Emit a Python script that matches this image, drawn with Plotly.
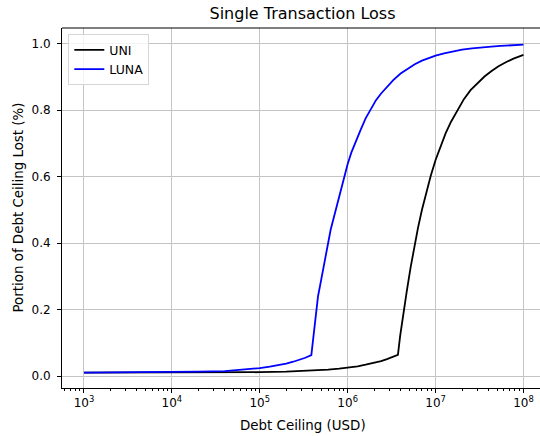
import plotly.graph_objects as go

# Data
uni_x = [1e3, 1e4, 1e5, 2e5, 4e5, 6e5, 8e5, 1e6, 1.3e6, 1.6e6, 2e6, 2.4e6, 2.8e6, 3.3e6, 3.73e6,
         3.95e6, 4.15e6, 4.37e6, 4.7e6, 5.2e6, 5.7e6, 6.3e6, 7e6, 7.8e6, 8.8e6, 1e7,
         1.15e7, 1.3e7, 1.5e7, 1.77e7, 2.1e7, 2.5e7, 3e7, 3.6e7, 4.3e7, 5.2e7, 6.3e7, 7.7e7, 1e8]
uni_y = [0.010, 0.010, 0.0115, 0.013, 0.016, 0.019, 0.022, 0.025, 0.029, 0.034, 0.039, 0.045, 0.051, 0.058, 0.064,
         0.12, 0.16, 0.197, 0.255, 0.327, 0.385, 0.445, 0.50, 0.55, 0.602, 0.65,
         0.695, 0.73, 0.765, 0.80, 0.833, 0.86, 0.881, 0.901, 0.917, 0.932, 0.944, 0.955, 0.966]

luna_x = [1e3, 1e4, 2e4, 4e4, 6e4, 8e4, 1e5, 1.3e5, 1.6e5, 2e5, 2.4e5, 2.8e5, 3.3e5, 3.86e5,
          4.1e5, 4.33e5, 4.6e5, 5e5, 5.4e5, 5.87e5, 6.4e5, 7e5, 7.83e5, 8.5e5, 9.2e5, 1e6,
          1.1e6, 1.25e6, 1.4e6, 1.6e6, 1.8e6, 2.1e6, 2.4e6, 2.8e6, 3.3e6, 4e6, 4.8e6, 5.8e6,
          7e6, 8.5e6, 1e7, 1.25e7, 1.5e7, 2e7, 2.6e7, 3.3e7, 4.3e7, 5.5e7, 7e7, 1e8]
luna_y = [0.010, 0.011, 0.013, 0.015, 0.018, 0.021, 0.024, 0.028, 0.032, 0.037, 0.043, 0.048, 0.055, 0.063,
          0.13, 0.19, 0.24, 0.29, 0.34, 0.39, 0.44, 0.48, 0.53, 0.57, 0.605, 0.638,
          0.672, 0.71, 0.74, 0.775, 0.80, 0.83, 0.85, 0.87, 0.89, 0.91, 0.925, 0.938,
          0.949, 0.958, 0.964, 0.971, 0.976, 0.982, 0.986, 0.989, 0.991, 0.993, 0.995, 0.997]

y_ticks = [0.0, 0.2, 0.4, 0.6, 0.8, 1.0]
x_tick_exps = [3, 4, 5, 6, 7, 8]

FONT = "DejaVu Sans"
GRID = "#c4c4c4"

# plot-area geometry in pixels (matches the reference)
L, R, T, B = 62, 540, 28, 388
W, H = 540, 436
PW, PH = R - L, B - T

fig = go.Figure()
fig.add_trace(go.Scatter(x=uni_x, y=uni_y, mode="lines", name="UNI",
                         line=dict(color="black", width=1.8)))
fig.add_trace(go.Scatter(x=luna_x, y=luna_y, mode="lines", name="LUNA",
                         line=dict(color="blue", width=1.8)))

fig.update_layout(
    width=W, height=H,
    margin=dict(l=L, r=W - R, t=T, b=H - B, autoexpand=False),
    paper_bgcolor="white", plot_bgcolor="white",
    font=dict(family=FONT, size=12, color="black"),
    title=dict(text="Single Transaction Loss", x=302.5 / W, xref="container",
               y=1 - 13.5 / H, yref="container", xanchor="center", yanchor="middle",
               font=dict(family=FONT, size=16, color="black")),
    showlegend=True,
    legend=dict(x=(68.3 - L) / PW, y=(B - 34.3) / PH, xanchor="left", yanchor="top",
                bgcolor="rgba(255,255,255,0.8)", bordercolor="#d6d6d6", borderwidth=1,
                font=dict(family=FONT, size=12.5, color="black"),
                itemwidth=30, tracegroupgap=2),
    xaxis=dict(type="log", range=[2.75, 8.188], automargin=False,
               tickvals=[10 ** e for e in x_tick_exps],
               ticktext=["10<sup>%d</sup>" % e for e in x_tick_exps],
               ticks="outside", ticklen=4, tickwidth=1, tickcolor="black",
               showline=True, linecolor="black", linewidth=1,
               showgrid=True, gridcolor=GRID, gridwidth=1,
               zeroline=False,
               minor=dict(ticks="outside", ticklen=2, tickcolor="black", showgrid=False,
                          dtick="D1"),
               tickfont=dict(family=FONT, size=12, color="black")),
    yaxis=dict(range=[-0.036, 1.047], automargin=False,
               tickvals=y_ticks, tickformat=".1f",
               ticks="outside", ticklen=4, tickwidth=1, tickcolor="black",
               ticklabelstandoff=4,
               showline=True, linecolor="black", linewidth=1,
               showgrid=True, gridcolor=GRID, gridwidth=1,
               zeroline=False,
               tickfont=dict(family=FONT, size=12, color="black")),
)
# axis titles placed as annotations (pixel-matched)
fig.add_annotation(text="Debt Ceiling (USD)", xref="paper", yref="paper",
                   x=(302.5 - L) / PW, y=(B - 425) / PH, xanchor="center", yanchor="middle",
                   showarrow=False, font=dict(family=FONT, size=13.4, color="black"))
fig.add_annotation(text="Portion of Debt Ceiling Lost (%)", xref="paper", yref="paper",
                   x=(17.5 - L) / PW, y=(B - 208) / PH, xanchor="center", yanchor="middle",
                   textangle=-90, showarrow=False,
                   font=dict(family=FONT, size=13.4, color="black"))
# top spine (right spine lies outside the cropped reference)
fig.add_shape(type="line", xref="paper", yref="paper", x0=0, x1=1, y0=1, y1=1,
              line=dict(color="black", width=1))

fig.write_html("out.html", config={"displayModeBar": False},
               post_script="document.body.style.margin='0';document.body.style.overflow='hidden';")
